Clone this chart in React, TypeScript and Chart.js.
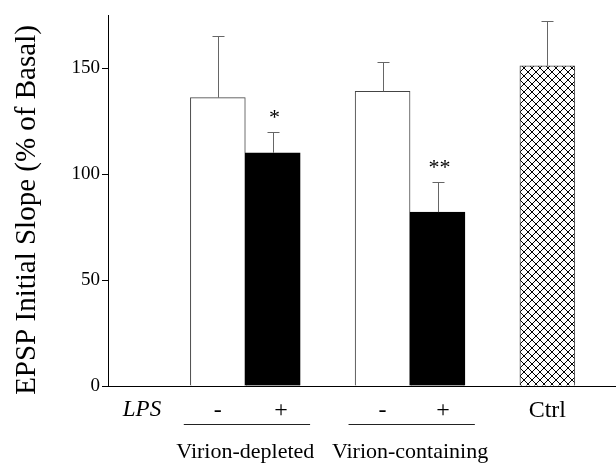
import React, { useEffect, useRef } from 'react';
import { Chart, registerables } from 'chart.js';

Chart.register(...registerables);

const FONT = '"Liberation Serif", "Times New Roman", Times, serif';

// ---- data ----
const barLabels = ['-', '+', '-', '+', 'Ctrl'];
const barPositions = [2, 3, 5, 6, 8];
const labelPositions = [2, 3.15, 5, 6.1, 8];
const means = [136, 110, 139, 82, 151];
const sems = [29, 10, 14, 14, 21];
const significance = ['', '*', '', '**', ''];
const fillKinds = ['white', 'black', 'white', 'black', 'hatch'];
const groupLabels = ['Virion-depleted', 'Virion-containing'];
const groupMembers = [
  [0, 1],
  [2, 3],
];
const yTicks = [0, 50, 100, 150];
const yMax = 175;
const xMax = 9.25;
const yTitle = 'EPSP Initial Slope (% of Basal)';
const factorLabel = 'LPS';

export default function App() {
  const ref = useRef<HTMLCanvasElement>(null);

  useEffect(() => {
    const canvas = ref.current!;
    const ctx = canvas.getContext('2d')!;

    const tile = document.createElement('canvas');
    tile.width = 8;
    tile.height = 8;
    const t = tile.getContext('2d')!;
    t.fillStyle = '#ffffff';
    t.fillRect(0, 0, 8, 8);
    t.strokeStyle = '#000000';
    t.lineWidth = 1;
    t.beginPath();
    t.moveTo(-1, -1);
    t.lineTo(9, 9);
    t.moveTo(-1, 9);
    t.lineTo(9, -1);
    t.stroke();
    const pattern = ctx.createPattern(tile, 'repeat')!;

    const bg = fillKinds.map((k) => (k === 'white' ? '#ffffff' : k === 'black' ? '#000000' : pattern));
    const bc = fillKinds.map((k) => (k === 'black' ? '#000000' : '#444444'));

    const overlay = {
      id: 'overlay',
      afterDatasetsDraw(chart: any) {
        const { ctx: c, scales } = chart;
        const x = scales.x;
        const y = scales.y;
        c.save();
        c.strokeStyle = '#666666';
        c.lineWidth = 1;
        means.forEach((m, i) => {
          const px = Math.round(x.getPixelForValue(barPositions[i])) + 0.5;
          const y0 = y.getPixelForValue(m);
          const y1 = Math.round(y.getPixelForValue(m + sems[i])) + 0.5;
          c.beginPath();
          c.moveTo(px, y0);
          c.lineTo(px, y1);
          c.moveTo(px - 6, y1);
          c.lineTo(px + 6, y1);
          c.stroke();
          if (significance[i]) {
            c.fillStyle = '#000000';
            c.font = `22px ${FONT}`;
            c.textAlign = 'center';
            c.textBaseline = 'alphabetic';
            c.fillText(significance[i], px + 1, y1 - 9);
          }
        });
        c.restore();
      },
      afterDraw(chart: any) {
        const { ctx: c, scales } = chart;
        const x = scales.x;
        c.save();
        c.fillStyle = '#000000';
        // y title
        c.save();
        c.translate(27, 210);
        c.rotate(-Math.PI / 2);
        c.font = `29px ${FONT}`;
        c.textAlign = 'center';
        c.textBaseline = 'middle';
        c.fillText(yTitle, 0, 0);
        c.restore();
        // factor label
        c.font = `italic 23px ${FONT}`;
        c.textAlign = 'center';
        c.textBaseline = 'middle';
        c.fillText(factorLabel, 142, 410);
        // group underlines and labels
        c.strokeStyle = '#222222';
        c.lineWidth = 1;
        groupMembers.forEach((mem, g) => {
          const a = barPositions[mem[0]];
          const b = barPositions[mem[mem.length - 1]];
          const left = x.getPixelForValue(a - 0.62);
          const right = x.getPixelForValue(b + 0.68);
          const ly = 424.5;
          c.beginPath();
          c.moveTo(left, ly);
          c.lineTo(right, ly);
          c.stroke();
          c.font = `22px ${FONT}`;
          c.textAlign = 'center';
          c.textBaseline = 'alphabetic';
          c.fillText(groupLabels[g], x.getPixelForValue((a + b) / 2), 458);
        });
        c.restore();
      },
    };

    const chart = new Chart(canvas, {
      type: 'bar',
      data: {
        datasets: [
          {
            data: means.map((m, i) => ({ x: barPositions[i], y: m })),
            backgroundColor: bg as any,
            borderColor: bc,
            borderWidth: 1,
            barPercentage: 1,
            categoryPercentage: 1,
          },
        ],
      },
      options: {
        responsive: false,
        animation: false,
        layout: { padding: { top: 15, left: 0, right: 0, bottom: 0 } },
        plugins: {
          legend: { display: false },
          tooltip: { enabled: false },
        },
        scales: {
          x: {
            type: 'linear',
            min: 0,
            max: xMax,
            offset: false,
            grid: { display: false, drawTicks: false },
            border: { display: true, color: '#000000', width: 1 },
            afterBuildTicks: (s: any) => {
              s.ticks = labelPositions.map((v) => ({ value: v }));
            },
            afterFit: (s: any) => {
              s.height = 77;
            },
            ticks: {
              autoSkip: false,
              maxRotation: 0,
              padding: 10,
              color: '#000000',
              font: { family: FONT, size: 24 },
              callback: (_v: any, i: number) => barLabels[i],
            },
          },
          y: {
            type: 'linear',
            min: 0,
            max: yMax,
            grid: { display: true, drawOnChartArea: false, drawTicks: true, tickLength: 6, color: '#000000' },
            border: { display: true, color: '#000000', width: 1 },
            afterBuildTicks: (s: any) => {
              s.ticks = yTicks.map((v) => ({ value: v }));
            },
            afterFit: (s: any) => {
              s.width = 108;
            },
            ticks: {
              padding: 2,
              color: '#000000',
              font: { family: FONT, size: 19 },
            },
          },
        },
      },
      plugins: [overlay],
    } as any);

    return () => chart.destroy();
  }, []);

  return (
    <div style={{ position: 'absolute', left: 0, top: 0, width: 616, height: 463, background: '#ffffff' }}>
      <canvas ref={ref} width={616} height={463} />
    </div>
  );
}
